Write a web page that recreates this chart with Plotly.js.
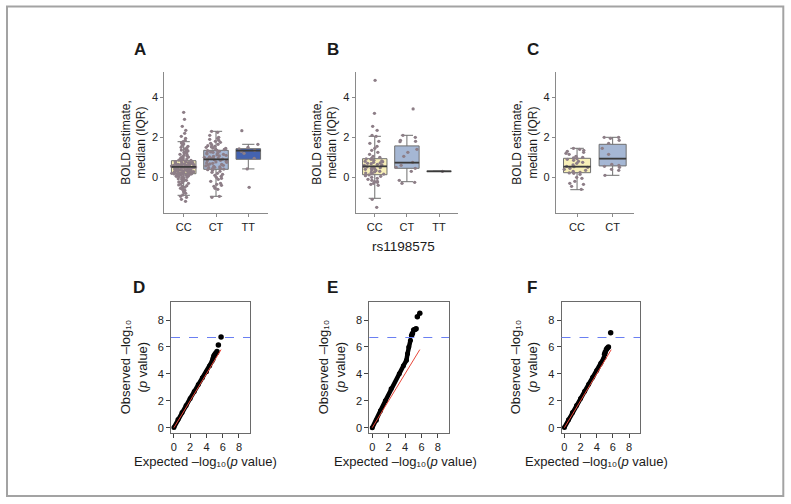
<!DOCTYPE html>
<html><head><meta charset="utf-8">
<script src="https://cdn.plot.ly/plotly-3.0.1.min.js"></script>
<style>body{margin:0;background:#fff}#chart{width:791px;height:504px}</style>
</head><body><div id="chart"></div>
<script>
// ---------- data ----------
const catsAB = ['CC','CT','TT'];
const catsC = ['CC','CT'];

const aQ1 = [0.18, 0.40, 0.90], aMed = [0.52, 0.90, 1.33], aQ3 = [0.83, 1.35, 1.43], aLo = [-0.90, -0.95, 0.42], aHi = [1.78, 2.30, 1.65];
const bQ1 = [0.13, 0.45, 0.30], bMed = [0.55, 0.73, 0.30], bQ3 = [0.93, 1.57, 0.30], bLo = [-1.05, -0.22, 0.30], bHi = [2.05, 2.10, 0.30];
const cQ1 = [0.23, 0.57], cMed = [0.53, 0.93], cQ3 = [0.95, 1.65], cLo = [-0.62, 0.10], cHi = [1.45, 2.00];

const aCC = [3.25,2.9,2.55,2.35,2.2,2.05,1.95,1.85,1.78,1.72,1.66,1.6,1.55,1.5,1.47,1.42,1.38,1.36,1.32,1.29,1.25,1.22,1.19,1.15,1.12,1.1,1.06,1.03,1.01,0.98,0.96,0.93,0.91,0.9,0.88,0.86,0.84,
 0.82,0.81,0.8,0.78,0.77,0.77,0.75,0.74,0.73,0.72,0.7,0.69,0.68,0.67,0.66,0.65,0.64,0.63,0.62,0.61,0.6,0.6,0.59,0.58,0.58,0.57,0.56,0.56,0.55,0.55,0.54,0.54,0.53,0.53,0.52,0.52,0.51,
 0.5,0.5,0.48,0.47,0.47,0.45,0.44,0.42,0.42,0.41,0.39,0.38,0.38,0.36,0.35,0.33,0.33,0.31,0.3,0.29,0.28,0.27,0.27,0.25,0.24,0.24,0.22,0.22,0.21,0.2,0.2,0.19,0.19,0.18,0.17,0.17,0.16,
 0.15,0.14,0.12,0.11,0.1,0.08,0.07,0.05,0.04,0.02,0.0,-0.02,-0.04,-0.07,-0.1,-0.12,-0.15,-0.18,-0.2,-0.23,-0.27,-0.3,-0.34,-0.38,-0.42,-0.46,-0.5,-0.55,-0.6,-0.66,-0.72,-0.8,-0.88,-0.95,-1.0,-1.1,-1.2];
const aCT = [2.3,2.25,2.1,2.0,1.95,1.9,1.85,1.8,1.75,1.7,1.65,1.62,1.58,1.55,1.52,1.5,1.46,1.44,1.41,1.39,
 1.35,1.33,1.3,1.27,1.25,1.22,1.2,1.17,1.15,1.12,1.1,1.07,1.05,1.02,1.0,0.98,0.96,0.94,0.92,0.91,
 0.88,0.85,0.83,0.8,0.77,0.75,0.72,0.7,0.67,0.64,0.62,0.6,0.57,0.55,0.52,0.5,0.48,0.45,0.43,0.41,
 0.38,0.35,0.3,0.25,0.2,0.15,0.1,0.05,0.0,-0.05,-0.1,-0.2,-0.3,-0.35,-0.4,-0.45,-0.55,-0.6,-0.95,-1.0];
const aTT = [2.33,1.65,1.5,1.42,1.35,1.3,1.2,0.95,0.42,-0.5];
const bCC = [4.85,3.2,2.55,2.35,2.1,2.05,1.8,1.7,1.55,1.45,1.35,1.25,1.15,1.05,1.0,
 0.95,0.92,0.9,0.85,0.82,0.8,0.78,0.75,0.72,0.7,0.68,0.65,0.62,0.6,0.58,
 0.55,0.52,0.5,0.48,0.45,0.42,0.4,0.37,0.34,0.3,0.27,0.24,0.21,0.18,0.16,
 0.12,0.08,0.05,0.0,-0.05,-0.1,-0.15,-0.2,-0.22,-0.25,-0.3,-0.35,-0.4,-1.1,-1.5];
const bCT = [3.42,2.1,2.0,1.85,1.8,1.78,1.4,1.25,1.05,0.75,0.6,0.5,0.45,0.3,-0.15,-0.25,-0.3];
const bTT = [0.3];
const cCC = [1.45,1.4,1.35,1.3,1.25,1.2,1.15,1.05,1.0,0.97,0.93,0.9,0.85,0.8,0.75,0.7,0.62,0.55,0.53,0.5,0.45,0.4,0.35,0.3,0.25,0.22,0.2,0.15,0.0,-0.05,-0.2,-0.3,-0.35,-0.45,-0.6];
const cCT = [2.0,2.0,1.95,1.85,1.7,1.45,1.15,0.65,0.6,0.55,0.5,0.4,0.35,0.1];

// QQ plots: dense band, sparse tail, null line
const dExp = [0,0.5,1,1.5,2,2.5,3,3.5,4,4.4,4.7];
const dObs = [0.02,0.6,1.13,1.65,2.17,2.68,3.2,3.7,4.15,4.6,4.95];
const dTailExp = [4.8,4.9,5.0,5.1,5.2,5.3,5.47,5.8];
const dTailObs = [5.1,5.3,5.4,5.5,5.55,5.65,6.14,6.74];
const eExp = [0,0.5,1,1.6,2.3,3.3,3.8,4.17,4.3,4.45,4.66];
const eObs = [0,0.55,1.25,2.0,2.9,4.0,4.6,5.0,5.5,6.0,6.5];
const eTailExp = [4.8,4.9,5.05,5.2,5.35,5.5,5.8];
const eTailObs = [6.85,7.0,7.25,7.3,7.35,8.25,8.5];
const fExp = [0,0.5,1,1.5,2,2.5,3,3.5,4,4.5,4.9];
const fObs = [0.02,0.58,1.12,1.65,2.17,2.7,3.22,3.74,4.25,4.78,5.2];
const fTailExp = [4.97,5.05,5.2,5.3,5.45,5.73];
const fTailObs = [5.45,5.6,5.8,5.9,6.0,7.06];
const nullLine = [0, 5.8];
const gwasThreshold = 6.7;
const qqTicks = [0,2,4,6,8];

// ---------- styling ----------
const W = 791, H = 504;
const FONT = 'Liberation Sans, Arial, Helvetica, DejaVu Sans, sans-serif';
const fills = {CC:'#f8f0b8', CT:'#a5b7d4', TT:'#4463b0'};
const ptColor = '#8d7e87';
const px = v => v / W, py = v => 1 - v / H;

const traces = [];
function boxPanel(xa, ya, cats, q1, med, q3, lo, hi, pts) {
  cats.forEach((c, i) => {
    traces.push({type:'box', xaxis:xa, yaxis:ya, x:[c], q1:[q1[i]], median:[med[i]], q3:[q3[i]],
      lowerfence:[lo[i]], upperfence:[hi[i]], width:0.76, boxpoints:false,
      fillcolor:fills[c], line:{color:'#6f6f6f', width:1}, hoverinfo:'skip', showlegend:false});
  });
  const xs = [], ys = [];
  cats.forEach((c, i) => pts[i].forEach(v => { xs.push(c); ys.push(v); }));
  traces.push({type:'box', xaxis:xa, yaxis:ya, x:xs, y:ys, boxpoints:'all', jitter:1, pointpos:0, width:0.76,
    fillcolor:'rgba(0,0,0,0)', line:{color:'rgba(0,0,0,0)', width:0},
    marker:{size:3.3, color:ptColor}, hoverinfo:'skip', showlegend:false});
  traces.push({type:'box', xaxis:xa, yaxis:ya, x:cats, q1:med, median:med, q3:med, lowerfence:med, upperfence:med,
    width:0.76, boxpoints:false, fillcolor:'rgba(0,0,0,0)', line:{color:'#3a3a3a', width:1.7}, hoverinfo:'skip', showlegend:false});
}
boxPanel('x','y',catsAB,aQ1,aMed,aQ3,aLo,aHi,[aCC,aCT,aTT]);
boxPanel('x2','y2',catsAB,bQ1,bMed,bQ3,bLo,bHi,[bCC,bCT,bTT]);
boxPanel('x3','y3',catsC,cQ1,cMed,cQ3,cLo,cHi,[cCC,cCT]);

function qqPanel(xa, ya, ex, ob, tex, tob) {
  traces.push({type:'scatter', mode:'lines+markers', xaxis:xa, yaxis:ya, x:ex, y:ob,
    line:{color:'#000', width:4.5}, marker:{color:'#000', size:5}, hoverinfo:'skip', showlegend:false});
  traces.push({type:'scatter', mode:'markers', xaxis:xa, yaxis:ya, x:tex, y:tob,
    marker:{color:'#000', size:5.5}, hoverinfo:'skip', showlegend:false});
  traces.push({type:'scatter', mode:'lines', xaxis:xa, yaxis:ya, x:nullLine, y:nullLine,
    line:{color:'#e8473a', width:1}, hoverinfo:'skip', showlegend:false});
}
qqPanel('x4','y4',dExp,dObs,dTailExp,dTailObs);
qqPanel('x5','y5',eExp,eObs,eTailExp,eTailObs);
qqPanel('x6','y6',fExp,fObs,fTailExp,fTailObs);

const tickFont = {family:FONT, size:11, color:'#222'};
function boxX(dom, cats, range, anchor) {
  return {domain:dom, anchor:anchor, type:'category', categoryorder:'array', categoryarray:cats, range:range,
    showline:true, linecolor:'#8a8a8a', linewidth:1, ticks:'outside', ticklen:3, tickcolor:'#8a8a8a',
    showgrid:false, zeroline:false, tickfont:tickFont, fixedrange:true};
}
function boxY(anchor) {
  return {domain:[py(213.3), py(71.7)], anchor:anchor, range:[-1.8, 5.28], tickvals:[0,2,4],
    showline:true, linecolor:'#8a8a8a', linewidth:1, ticks:'outside', ticklen:3, tickcolor:'#8a8a8a',
    showgrid:false, zeroline:false, tickfont:tickFont, fixedrange:true,
    title:{text:'BOLD estimate,<br>median (IQR)', standoff:3, font:{family:FONT, size:12, color:'#1a1a1a'}}};
}
function qqAxis(dom, anchor, isY) {
  const a = {domain:dom, anchor:anchor, range:[-0.36, 9.36], tickvals:qqTicks,
    showline:true, mirror:true, linecolor:'#6a6a6a', linewidth:1, ticks:'outside', ticklen:4, tickcolor:'#444',
    showgrid:false, zeroline:false, tickfont:tickFont, fixedrange:true};
  if (isY) a.title = {text:'Observed –log₁₀<br>(<i>p</i> value)', standoff:7, font:{family:FONT, size:13, color:'#1a1a1a'}};
  return a;
}
const qqY = [py(432.5), py(301.7)];

const ann = [];
function txt(t, x, y, size, opts) {
  ann.push(Object.assign({text:t, x:px(x), y:py(y), xref:'paper', yref:'paper', showarrow:false,
    xanchor:'center', yanchor:'middle', font:{family:FONT, size:size, color:'#1a1a1a'}}, opts || {}));
}
[['A',139.5,50],['B',332.5,49.5],['C',533,49.5],['D',139.2,287.8],['E',332,287.8],['F',532,287.8]]
  .forEach(l => txt('<b>'+l[0]+'</b>', l[1], l[2], 17));
txt('rs1198575', 403.5, 246, 13.5);
[205.8, 405.5, 596.3].forEach(cx => txt('Expected –log₁₀(<i>p</i> value)', cx, 461.7, 13));

const shapes = [
  {type:'rect', xref:'paper', yref:'paper', x0:px(7), x1:px(783.3), y0:py(496), y1:py(6.5), line:{color:'#a3a3a3', width:2}},
];
['4','5','6'].forEach(n => shapes.push({type:'line', xref:'x'+n+' domain', yref:'y'+n, x0:0, x1:1,
  y0:gwasThreshold, y1:gwasThreshold, line:{color:'#6a7ff2', width:1.1, dash:'dash'}}));

const layout = {
  width:W, height:H, margin:{l:0,r:0,t:0,b:0}, paper_bgcolor:'#fff', plot_bgcolor:'rgba(0,0,0,0)',
  showlegend:false, boxmode:'overlay', font:{family:FONT, color:'#222'},
  xaxis: boxX([px(164.3), px(267.7)], catsAB, [-0.6, 2.6], 'y'),
  yaxis: boxY('x'),
  xaxis2: boxX([px(355.5), px(458.3)], catsAB, [-0.6, 2.6], 'y2'),
  yaxis2: boxY('x2'),
  xaxis3: boxX([px(555.7), px(634)], catsC, [-0.6, 1.6], 'y3'),
  yaxis3: boxY('x3'),
  xaxis4: qqAxis([px(171), px(250)], 'y4'), yaxis4: qqAxis(qqY, 'x4', true),
  xaxis5: qqAxis([px(369.3), px(449)], 'y5'), yaxis5: qqAxis(qqY, 'x5', true),
  xaxis6: qqAxis([px(561.5), px(640)], 'y6'), yaxis6: qqAxis(qqY, 'x6', true),
  annotations: ann, shapes: shapes
};
Plotly.newPlot('chart', traces, layout, {displayModeBar:false, staticPlot:true});
</script></body></html>
